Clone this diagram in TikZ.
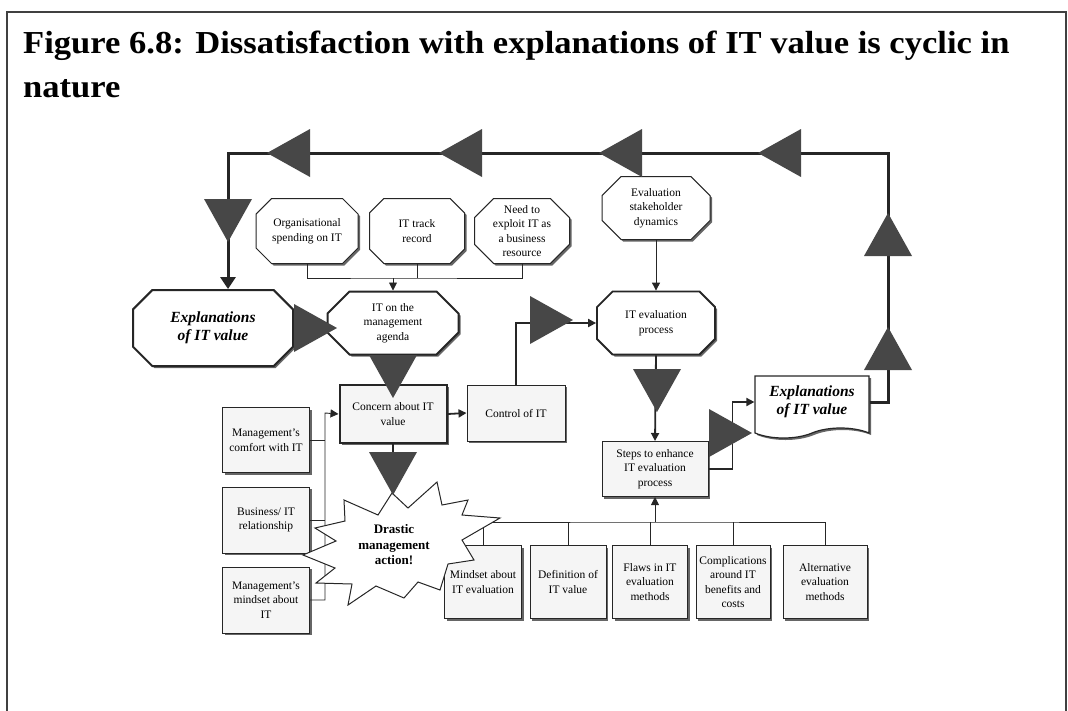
\documentclass[tikz,border=0pt]{standalone}
\usepackage{fontspec}
\setmainfont{Liberation Serif}
\usepackage{tikz}
\usetikzlibrary{arrows.meta, positioning, calc, shapes.misc, shapes.symbols, shadows}

\newcommand{\smallboxfont}{\fontsize{11.5}{14.5}\selectfont}
\newcommand{\explfont}{\fontsize{15.5}{18.5}\selectfont\bfseries\itshape}
\newcommand{\headfont}{\fontsize{32}{38}\selectfont\bfseries}

% big grey arrow head sitting on a connector, tip at the origin
\tikzset{pics/bigtri/.style={code={\fill[black!72] (0,0) -- (-43,24) -- (-43,-24) -- cycle;}}}

\begin{document}
\begin{tikzpicture}[x=1pt,y=-1pt,>={Triangle[length=8pt,width=8pt]},
        every node/.style={font=\smallboxfont},
        octnode/.style={chamfered rectangle,chamfered rectangle xsep=16pt,draw=black!85,line width=1pt,fill=white,
            align=center,inner sep=0pt,drop shadow={shadow xshift=2pt,shadow yshift=-2pt,fill=black!60,opacity=1}},
        bigoct/.style={octnode,chamfered rectangle xsep=19pt,line width=2pt,font=\explfont},
        boxnode/.style={rectangle,draw=black!85,line width=1pt,fill=black!4,align=center,inner sep=0pt,
            drop shadow={shadow xshift=2pt,shadow yshift=-2pt,fill=black!60,opacity=1}},
        wire/.style={draw=black!85,line width=0.9pt},
        link/.style={draw=black!85,line width=1.8pt},
        cycleline/.style={draw=black!85,line width=3pt}]
    \useasboundingbox (0,0) rectangle (1068,710);

    % frame and heading
    \draw[black!75,line width=1.5pt] (7,712) -- (7,12) -- (1066,12) -- (1066,712);
    \node[anchor=base west,font=\headfont,inner sep=0pt] (head) at (23,53)
        {\scalebox{1.08}[1]{Figure 6.8: Dissatisfaction with explanations of IT value is cyclic in}};
    \node[anchor=base west,font=\headfont,inner sep=0pt] (head2) at (23,97) {\scalebox{1.08}[1]{nature}};

    % octagons
    \node[bigoct,minimum width=160pt,minimum height=76pt] (explLeft) at (213,328) {Explanations\\of IT value};
    \node[octnode,minimum width=102pt,minimum height=65pt] (spending) at (307,231) {Organisational\\spending on IT};
    \node[octnode,minimum width=95pt,minimum height=65pt] (track) at (417,231) {IT track\\record};
    \node[octnode,minimum width=95pt,minimum height=65pt] (exploit) at (522,231) {Need to\\exploit IT as\\a business\\resource};
    \node[octnode,minimum width=108pt,minimum height=63pt] (stakeholders) at (656,208) {Evaluation\\stakeholder\\dynamics};
    \node[bigoct,font=\smallboxfont,minimum width=131pt,minimum height=63pt] (agenda) at (393,323) {IT on the\\management\\agenda};
    \node[bigoct,font=\smallboxfont,line width=1.8pt,minimum width=118pt,minimum height=63pt] (process) at (656,323) {IT evaluation\\process};

    % boxes
    \node[boxnode,line width=2pt,minimum width=107pt,minimum height=58pt] (concern) at (393,414) {Concern about IT\\value};
    \node[boxnode,minimum width=98pt,minimum height=56pt] (control) at (516,413) {Control of IT};
    \node[boxnode,minimum width=87pt,minimum height=65pt] (comfort) at (266,440) {Management's\\comfort with IT};
    \node[boxnode,minimum width=87pt,minimum height=66pt] (relationship) at (266,520) {Business/ IT\\relationship};
    \node[boxnode,minimum width=87pt,minimum height=66pt] (mindset) at (266,600) {Management's\\mindset about\\IT};
    \node[boxnode,minimum width=106pt,minimum height=55pt] (steps) at (655,469) {Steps to enhance\\IT evaluation\\process};
    \node[tape,tape bend top=none,tape bend height=10pt,draw=black!85,line width=1.2pt,fill=white,align=center,
        font=\explfont,minimum width=114pt,minimum height=62pt,inner sep=0pt,
        drop shadow={shadow xshift=2pt,shadow yshift=-2pt,fill=black!60,opacity=1}] (explRight) at (812,402) {Explanations\\of IT value};

    \node[boxnode,minimum width=77pt,minimum height=73pt] (mindsetEval) at (483,582) {Mindset about\\IT evaluation};
    \node[boxnode,minimum width=76pt,minimum height=73pt] (definition) at (568,582) {Definition of\\IT value};
    \node[boxnode,minimum width=75pt,minimum height=73pt] (flaws) at (650,582) {Flaws in IT\\evaluation\\methods};
    \node[boxnode,minimum width=74pt,minimum height=73pt] (complications) at (733,582) {Complications\\around IT\\benefits and\\costs};
    \node[boxnode,minimum width=84pt,minimum height=73pt] (alternatives) at (825,582) {Alternative\\evaluation\\methods};

    \coordinate (ne) at (888,153);
    \coordinate (nw) at (228,153);
    \coordinate (bus1) at (393,278);
    \coordinate (spine) at (325,413);
    \coordinate (bus2) at (655,522);

    % thin feeders
    \draw[wire] (spending.south) |- (bus1) -| (exploit.south);
    \draw[wire] (track.south) -- (track.south |- bus1);
    \draw[wire,->] (bus1) -- (agenda.north);
    \draw[wire,->] (stakeholders.south) -- (process.north);
    \draw[wire] (comfort.east) -- (comfort.east -| spine);
    \draw[wire] (relationship.east) -- (relationship.east -| spine);
    \draw[wire,->] (mindset.east) -| (spine) -- (concern.west);
    \draw[wire] (mindsetEval.north) |- (bus2) -| (alternatives.north);
    \draw[wire] (definition.north) -- (definition.north |- bus2);
    \draw[wire] (flaws.north) -- (flaws.north |- bus2);
    \draw[wire] (complications.north) -- (complications.north |- bus2);
    \draw[wire,->] (bus2) -- (steps.south);

    % main flow
    \draw[link] (explLeft.east) -- (agenda.west);
    \draw[link] (agenda.south) -- (concern.north);
    \draw[link,->] (concern.east) -- (control.west);
    \draw[link] (concern.south) -- ++(0,20);
    \draw[link,->] (control.north) |- (process.west);
    \draw[link,->] (process.south) -- (steps.north);
    \draw[link,->] (steps.east) -- ++(24,0) |- (explRight.west);
    \draw[cycleline,-{Triangle[length=12pt,width=15pt]}] (explRight.east) -| (ne) -- (nw) -- (nw |- explLeft.north);

    % the burst
    \filldraw[draw=black!85,fill=white,line width=1pt,line join=miter]
        (392,493) -- (408,508) -- (437,482) -- (442,505) -- (468,500) -- (462,515) -- (500,518)
        -- (462,540) -- (474,560) -- (448,564) -- (440,590) -- (418,582) -- (404,598) -- (376,586)
        -- (348,605) -- (352,584) -- (316,583) -- (335,568) -- (303,555) -- (336,541) -- (315,528)
        -- (345,521) -- (344,500) -- (378,515) -- cycle;
    \node[font=\fontsize{13}{15.5}\selectfont\bfseries,align=center,inner sep=0pt] (action) at (394,545) {Drastic\\management\\action!};

    % big arrow heads along the cycle
    \foreach \tx in {267,439,599,758} \pic[rotate=180] at (\tx,153) {bigtri};
    \pic[rotate=-90] at (228,242) {bigtri};
    \pic at (337,328) {bigtri};
    \pic[rotate=-90] at (393,398) {bigtri};
    \pic[rotate=-90] at (393,495) {bigtri};
    \pic at (573,320) {bigtri};
    \pic[rotate=-90] at (657,412) {bigtri};
    \pic at (752,433) {bigtri};
    \pic[rotate=90] at (888,327) {bigtri};
    \pic[rotate=90] at (888,213) {bigtri};
\end{tikzpicture}
\end{document}
